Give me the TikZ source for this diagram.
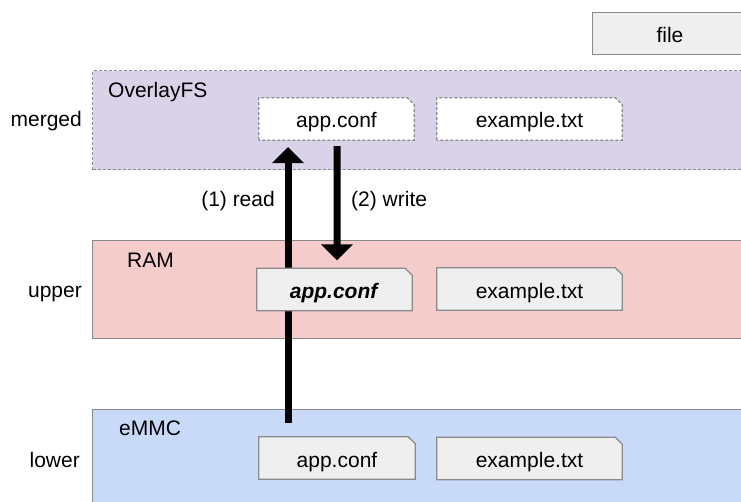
\documentclass[tikz,border=0pt]{standalone}
\usepackage{fontspec}
\setmainfont{Liberation Sans}
\usetikzlibrary{arrows.meta}
\definecolor{mergedfill}{HTML}{D9D2E9}
\definecolor{upperfill}{HTML}{F4CCCC}
\definecolor{lowerfill}{HTML}{C9DAF8}
\definecolor{boxfill}{HTML}{EFEFEF}
\definecolor{edgegray}{HTML}{8A8A8A}
\pgfdeclarelayer{back}
\pgfdeclarelayer{mid}
\pgfsetlayers{back,mid,main}
\newcommand{\foldshape}[2]{%
  \filldraw[#2] (#1.south west) -- (#1.north west) -- ([xshift=-7bp]#1.north east)
    -- ([yshift=-7bp]#1.north east) -- (#1.south east) -- cycle;}
\tikzset{
  txt/.style={font=\fontsize{21bp}{25bp}\selectfont, inner sep=0pt},
  filenode/.style={txt, minimum height=42bp, text height=20bp, text depth=2bp},
  band/.style={draw=edgegray, line width=1.2bp, anchor=north west, minimum width=720bp, inner sep=0pt},
  boxsolid/.style={draw=edgegray, fill=boxfill, line width=1.2bp, line join=miter},
  boxdashed/.style={draw=edgegray, fill=white, line width=1.2bp, dash pattern=on 3bp off 2bp},
  bigarrow/.style={line width=7bp, -{Triangle[width=31bp,length=16bp]}},
}
\begin{document}
\begin{tikzpicture}[x=1bp,y=-1bp]
\useasboundingbox (0,0) rectangle (741,502);
% file nodes (text only; shapes on mid layer)
\node[filenode, minimum width=154bp] (file) at (670,33.5) {file};
\node[filenode, minimum width=155bp] (mapp) at (336.5,119) {app.conf};
\node[filenode, minimum width=185bp] (mex) at (529.5,119) {example.txt};
\node[filenode, minimum width=155bp] (uapp) at (334.5,289.5) {\textbf{\textit{app.conf}}};
\node[filenode, minimum width=185bp] (uex) at (529.5,289) {example.txt};
\node[filenode, minimum width=156bp] (lapp) at (337,458) {app.conf};
\node[filenode, minimum width=185bp] (lex) at (529.5,458.5) {example.txt};
% row labels
\node[txt, anchor=base east] (lmerged) at (82,127) {merged};
\node[txt, anchor=base east] (lupper) at (82,297) {upper};
\node[txt, anchor=base east] (llower) at (80,467) {lower};
% band titles
\node[txt, anchor=base west] (tover) at (108,98) {OverlayFS};
\node[txt, anchor=base west] (tram) at (127,268) {RAM};
\node[txt, anchor=base west] (temmc) at (119,435) {eMMC};
% arrow labels
\node[txt, anchor=base east] (lread) at (275,207) {(1) read};
\node[txt, anchor=base west] (lwrite) at (351,207) {(2) write};
\begin{pgfonlayer}{mid}
  \clip (0,0) rectangle (741,502);
  \filldraw[boxsolid] (file.south west) rectangle (file.north east);
  \foldshape{mapp}{boxdashed}
  \foldshape{mex}{boxdashed}
  \foldshape{uapp}{boxsolid}
  \foldshape{uex}{boxsolid}
  \foldshape{lapp}{boxsolid}
  \foldshape{lex}{boxsolid}
\end{pgfonlayer}
\begin{pgfonlayer}{back}
  \clip (0,0) rectangle (741,502);
  \fill[white] (0,0) rectangle (741,502);
  \node[band, fill=mergedfill, minimum height=99bp, dash pattern=on 3bp off 2bp] (mband) at (92,70) {};
  \node[band, fill=upperfill, minimum height=98bp] (uband) at (92,240) {};
  \node[band, fill=lowerfill, minimum height=120bp] (lband) at (92,409) {};
  \draw[bigarrow] ([xshift=-49bp,yshift=14bp]lapp.north) -- ([xshift=-48.5bp,yshift=-7bp]mapp.south);
  \draw[bigarrow] ([xshift=0.5bp,yshift=-6bp]mapp.south) -- ([xshift=2.5bp,yshift=8bp]uapp.north);
\end{pgfonlayer}
\end{tikzpicture}
\end{document}
